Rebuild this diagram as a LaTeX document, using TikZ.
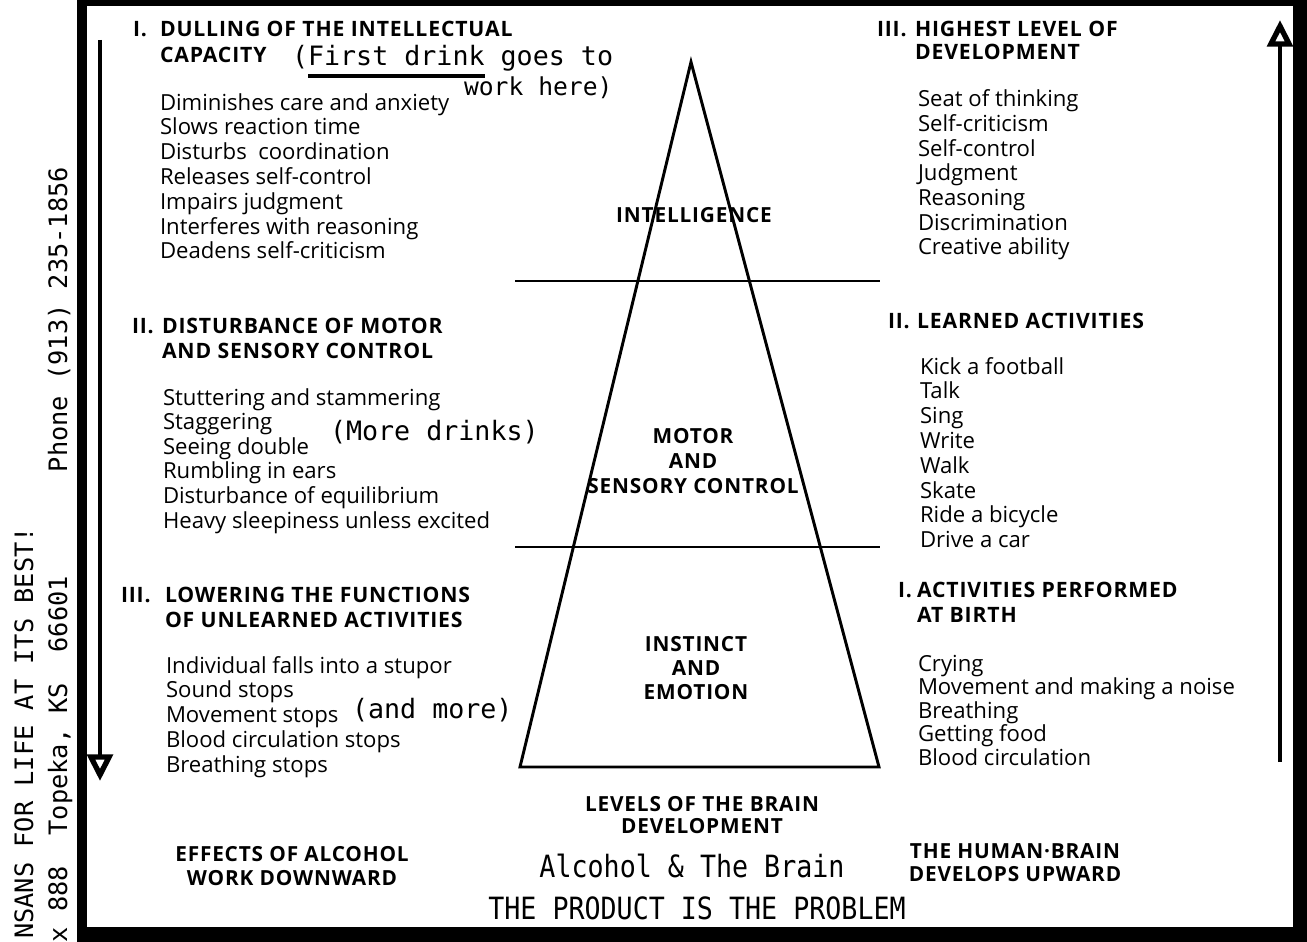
\documentclass[tikz,border=0pt]{standalone}
\usepackage{fontspec}
\setmainfont{Open Sans}
\newfontfamily\hfont{Open Sans}[LetterSpace=4]
\newfontfamily\tfont{DejaVu Sans Mono}
\usetikzlibrary{arrows.meta}
\begin{document}
\begin{tikzpicture}[x=0.75pt,y=-0.75pt,
  every node/.style={inner sep=0pt, outer sep=0pt},
  item/.style={anchor=base west, font=\fontsize{16.6}{19}\selectfont},
  head/.style={anchor=base west, font=\hfont\bfseries\fontsize{15.9}{18}\selectfont},
  lab/.style={anchor=base, font=\hfont\bfseries\fontsize{15.6}{18}\selectfont},
  plab/.style={anchor=center, font=\hfont\bfseries\fontsize{15.6}{18}\selectfont},
  note/.style={anchor=base west, font=\tfont\fontsize{20}{22}\selectfont},
  big/.style={anchor=base, font=\tfont\fontsize{20}{22}\selectfont},
  side/.style={rotate=90, anchor=base east, font=\tfont\fontsize{19}{21}\selectfont},
  frame/.style={fill=black},
  tri/.style={line width=2.2pt, line join=miter},
  level/.style={line width=1.6pt},
  arr/.style={line width=2.4pt, -{Triangle[open,length=20pt,width=19pt,line width=4pt]}}
]
\useasboundingbox (0,0) rectangle (1307,942);

% frame
\fill[frame] (77,0) rectangle (87,942);
\fill[frame] (77,0) rectangle (1307,6);
\fill[frame] (1293,0) rectangle (1307,942);
\fill[frame] (77,927) rectangle (1307,942);

% side texts
\node[side] (s1) at (33,527) {NSANS FOR LIFE AT ITS BEST!};
\node[side] (s2) at (67,576) {x~888~~Topeka,~KS~~66601};
\node[side] (s3) at (67,167) {Phone (913) 235-1856};

% arrows
\coordinate (ltop) at (100,40);
\coordinate (lbot) at (100,781);
\draw[arr] (ltop) -- (lbot);
\coordinate (rbot) at (1280,762);
\coordinate (rtop) at (1280,20);
\draw[arr] (rbot) -- (rtop);

% pyramid
\coordinate (apex) at (691,62);
\coordinate (bl) at (520,767);
\coordinate (br) at (879,767);
\draw[tri] (apex) -- (bl) -- (br) -- cycle;
\coordinate (h1a) at (515,281); \coordinate (h1b) at (880,281);
\coordinate (h2a) at (515,547); \coordinate (h2b) at (880,547);
\draw[level] (h1a) -- (h1b);
\draw[level] (h2a) -- (h2b);
\node[plab] (p1) at (694,215) {INTELLIGENCE};
\node[plab] (p2) at (693,436) {MOTOR};
\node[plab] (p3) at (693,461) {AND};
\node[plab] (p4) at (693,486) {SENSORY CONTROL};
\node[plab] (p5) at (696,644) {INSTINCT};
\node[plab] (p6) at (696,668) {AND};
\node[plab] (p7) at (696,692) {EMOTION};

% left column
\node[head] (lh1n) at (133,37) {I.};
\node[head] (lh1a) at (160,37) {DULLING OF THE INTELLECTUAL};
\node[head] (lh1b) at (160,63) {CAPACITY};
\node[note] (n1) at (292,66) {(First drink goes to};
\node[note, font=\tfont\fontsize{18.5}{20}\selectfont] (n2) at (464,95) {work here)};
\coordinate (ul1) at (308,76); \coordinate (ul2) at (485,76);
\draw[line width=2.4pt] (ul1) -- (ul2);
\foreach \t [count=\i] in {Diminishes care and anxiety, Slows reaction time,
  Disturbs~ coordination, Releases self-control, Impairs judgment,
  Interferes with reasoning, Deadens self-criticism}
  \node[item] (la\i) at (160,{110+24.8*(\i-1)}) {\t};

\node[head] (lh2n) at (132,333) {II.};
\node[head] (lh2a) at (162,333) {DISTURBANCE OF MOTOR};
\node[head] (lh2b) at (162,358) {AND SENSORY CONTROL};
\foreach \t [count=\i] in {Stuttering and stammering, Staggering, Seeing double,
  Rumbling in ears, Disturbance of equilibrium, Heavy sleepiness unless excited}
  \node[item] (lb\i) at (163,{405+24.6*(\i-1)}) {\t};
\node[note] (n3) at (330,440) {(More drinks)};

\node[head] (lh3n) at (121,602) {III.};
\node[head] (lh3a) at (165,602) {LOWERING THE FUNCTIONS};
\node[head] (lh3b) at (165,627) {OF UNLEARNED ACTIVITIES};
\foreach \t [count=\i] in {Individual falls into a stupor, Sound stops, Movement stops,
  Blood circulation stops, Breathing stops}
  \node[item] (lc\i) at (166,{673+24.75*(\i-1)}) {\t};
\node[note] (n4) at (352,718) {(and more)};

% right column
\node[head] (rh3n) at (877,37) {III.};
\node[head] (rh3a) at (915,37) {HIGHEST LEVEL OF};
\node[head] (rh3b) at (915,60) {DEVELOPMENT};
\foreach \t [count=\i] in {Seat of thinking, Self-criticism, Self-control, Judgment,
  Reasoning, Discrimination, Creative ability}
  \node[item] (ra\i) at (918,{107+24.6*(\i-1)}) {\t};

\node[head] (rh2n) at (888,328) {II.};
\node[head] (rh2a) at (917,328) {LEARNED ACTIVITIES};
\foreach \t [count=\i] in {Kick a football, Talk, Sing, Write, Walk, Skate,
  Ride a bicycle, Drive a car}
  \node[item] (rb\i) at (920,{374+24.8*(\i-1)}) {\t};

\node[head] (rh1n) at (898,597) {I.};
\node[head] (rh1a) at (917,597) {ACTIVITIES PERFORMED};
\node[head] (rh1b) at (917,622) {AT BIRTH};
\foreach \t [count=\i] in {Crying, Movement and making a noise, Breathing,
  Getting food, Blood circulation}
  \node[item] (rc\i) at (918,{671+23.5*(\i-1)}) {\t};

% bottom
\node[lab] (lv1) at (702,811) {LEVELS OF THE BRAIN};
\node[lab] (lv2) at (702,833) {DEVELOPMENT};
\node[lab] (ef1) at (292,861) {EFFECTS OF ALCOHOL};
\node[lab] (ef2) at (292,885) {WORK DOWNWARD};
\node[lab] (hb1) at (1015,858) {THE HUMAN·BRAIN};
\node[lab] (hb2) at (1015,881) {DEVELOPS UPWARD};
\node[big] (t1) at (692,877) {\scalebox{1}[1.15]{Alcohol \& The Brain}};
\node[big] (t2) at (697,919) {\scalebox{1}[1.15]{THE PRODUCT IS THE PROBLEM}};
\end{tikzpicture}
\end{document}
